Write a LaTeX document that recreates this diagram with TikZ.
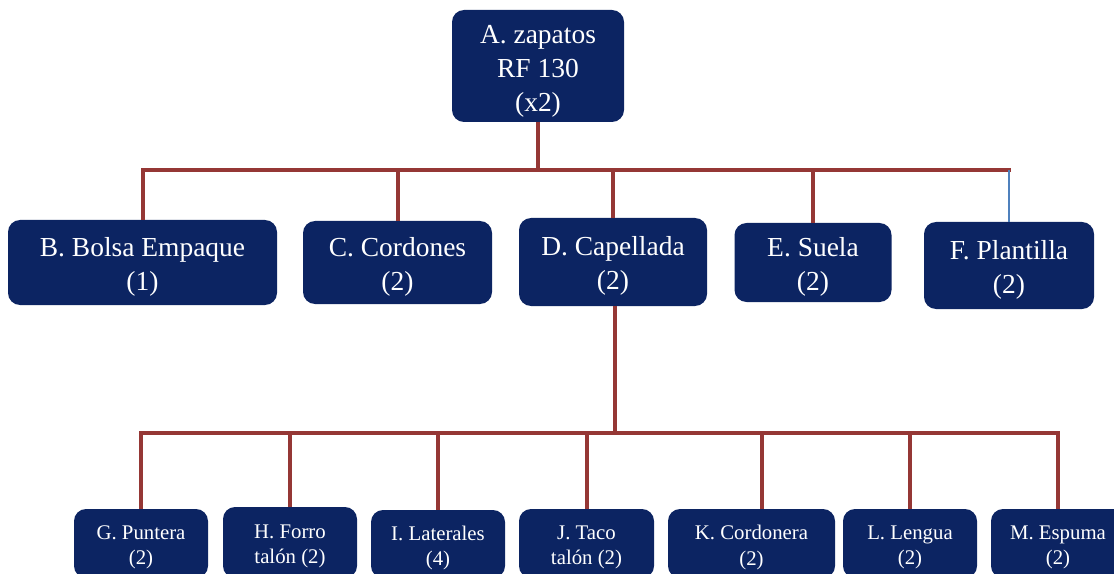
\documentclass[tikz,border=0pt]{standalone}
\usepackage{fontspec}
\setmainfont{Liberation Serif}
\usetikzlibrary{calc}
\definecolor{navy}{RGB}{12,36,98}
\definecolor{conred}{RGB}{149,55,53}
\definecolor{conblue}{RGB}{79,129,189}
\begin{document}
\begin{tikzpicture}[x=0.75pt,y=-0.75pt,
  box/.style={rectangle, rounded corners=9pt, fill=navy, inner sep=0pt},
  txt/.style={text=white, align=center, inner sep=0pt},
  big/.style={txt, font=\fontsize{20.6}{25.5}\selectfont},
  small/.style={txt, font=\fontsize{15.6}{18.8}\selectfont},
  conn/.style={draw=conred, line width=3pt},
  connb/.style={draw=conblue, line width=0.8pt}]
\useasboundingbox (0,0) rectangle (1114,574);
\clip (0,0) rectangle (1114,574);
% level 0
\node[box, minimum width=129pt, minimum height=84pt] (A) at (538,66) {};
\node[big] (At) at ($(A.center)+(0,5)$) {A. zapatos\\RF 130\\(x2)};
% level 1
\node[box, minimum width=201.75pt, minimum height=63.75pt] (B) at (142.5,262.5) {};
\node[big] (Bt) at ($(B.center)+(0,4)$) {B. Bolsa Empaque\\(1)};
\node[box, minimum width=141.75pt, minimum height=62.25pt] (C) at (397.5,262.5) {};
\node[big] (Ct) at ($(C.center)+(0,4)$) {C. Cordones\\(2)};
\node[box, minimum width=141pt, minimum height=66pt] (D) at (613,262) {};
\node[big] (Dt) at ($(D.center)+(0,4)$) {D. Capellada\\(2)};
\node[box, minimum width=117.75pt, minimum height=59.25pt] (E) at (813,262.5) {};
\node[big] (Et) at ($(E.center)+(0,4)$) {E. Suela\\(2)};
\node[box, minimum width=127.5pt, minimum height=65.25pt] (F) at (1009,265.5) {};
\node[big] (Ft) at ($(F.center)+(0,4)$) {F. Plantilla\\(2)};
% level 2
\node[box, minimum width=100.5pt, minimum height=51.75pt] (G) at (141,543.5) {};
\node[small] (Gt) at ($(G.center)+(0,4)$) {G. Puntera\\(2)};
\node[box, minimum width=100.5pt, minimum height=53.25pt] (H) at (290,542.5) {};
\node[small] (Ht) at ($(H.center)+(0,4)$) {H. Forro\\tal\'on (2)};
\node[box, minimum width=100.5pt, minimum height=51pt] (I) at (438,544) {};
\node[small] (It) at ($(I.center)+(0,4)$) {I. Laterales\\(4)};
\node[box, minimum width=101.25pt, minimum height=51.75pt] (J) at (586.5,543.5) {};
\node[small] (Jt) at ($(J.center)+(0,4)$) {J. Taco\\tal\'on (2)};
\node[box, minimum width=125.25pt, minimum height=51.75pt] (K) at (751.5,543.5) {};
\node[small] (Kt) at ($(K.center)+(0,4)$) {K. Cordonera\\(2)};
\node[box, minimum width=100.5pt, minimum height=51.75pt] (L) at (910,543.5) {};
\node[small] (Lt) at ($(L.center)+(0,4)$) {L. Lengua\\(2)};
\node[box, minimum width=100.5pt, minimum height=51.75pt] (M) at (1058,543.5) {};
\node[small] (Mt) at ($(M.center)+(0,4)$) {M. Espuma\\(2)};
% bus coordinates
\coordinate (bus1) at (0,170);
\coordinate (bus2) at (0,433);
\coordinate (Ds) at ($(D.south)+(1.5,0)$);
\coordinate (Kn) at ($(K.north)+(10.5,0)$);
% connectors level 0 -> 1
\draw[conn] (A.south) -- (A.south |- bus1);
\draw[conn, line cap=rect] (B.north |- bus1) -- (F.north |- bus1);
\draw[conn] (B.north |- bus1) -- (B.north);
\draw[conn] (C.north |- bus1) -- (C.north);
\draw[conn] (D.north |- bus1) -- (D.north);
\draw[conn] (E.north |- bus1) -- (E.north);
\draw[connb] (F.north |- bus1) -- (F.north);
% connectors level 1 -> 2
\draw[conn] (Ds) -- (Ds |- bus2);
\draw[conn, line cap=rect] (G.north |- bus2) -- (M.north |- bus2);
\draw[conn] (G.north |- bus2) -- (G.north);
\draw[conn] (H.north |- bus2) -- (H.north);
\draw[conn] (I.north |- bus2) -- (I.north);
\draw[conn] (J.north |- bus2) -- (J.north);
\draw[conn] (Kn |- bus2) -- (Kn);
\draw[conn] (L.north |- bus2) -- (L.north);
\draw[conn] (M.north |- bus2) -- (M.north);
\end{tikzpicture}
\end{document}
